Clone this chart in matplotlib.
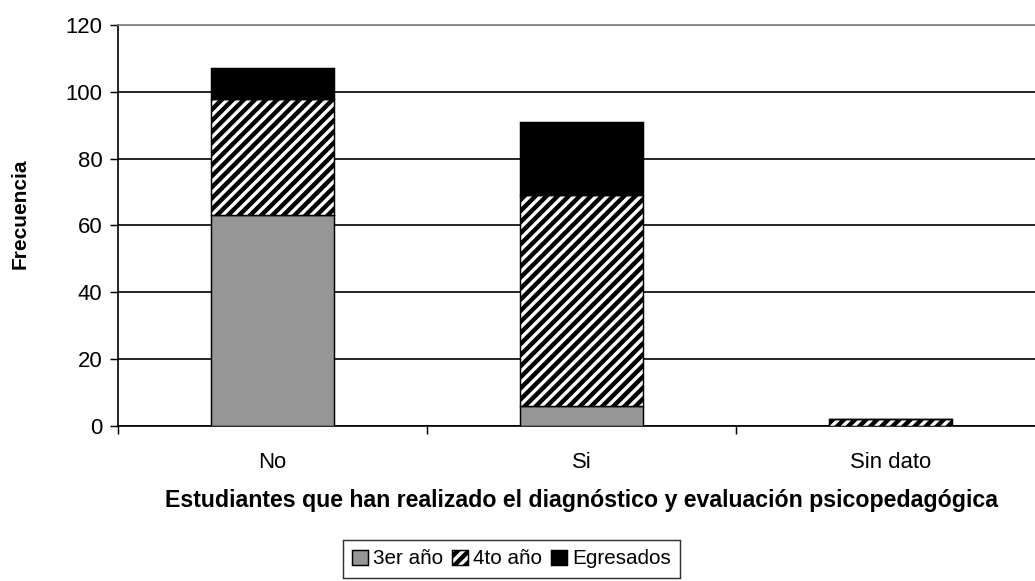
import matplotlib.pyplot as plt
import numpy as np

# --- Data ---
categorias = ["No", "Si", "Sin dato"]
tercer_anio = [63, 6, 0]
cuarto_anio = [35, 63, 2]
egresados = [9, 22, 0]
series_labels = ["3er año", "4to año", "Egresados"]
y_ticks = [0, 20, 40, 60, 80, 100, 120]

DPI = 133
plt.rcParams['font.family'] = ['Liberation Sans', 'DejaVu Sans']
plt.rcParams['hatch.linewidth'] = 2.4
plt.rcParams['hatch.color'] = '#202020'

fig = plt.figure(figsize=(1035 / DPI, 581 / DPI), dpi=DPI)
ax = fig.add_axes([118 / 1035, 1 - 426 / 581, 927 / 1035, 401 / 581])

x = np.arange(len(categorias))
ancho = 0.4
b1 = ax.bar(x, tercer_anio, ancho, color='#969696', edgecolor='black',
            linewidth=0.8, zorder=3, label=series_labels[0])
b2 = ax.bar(x, cuarto_anio, ancho, bottom=tercer_anio, color='white',
            edgecolor='black', hatch='////', linewidth=0.8, zorder=3,
            label=series_labels[1])
base = np.array(tercer_anio) + np.array(cuarto_anio)
b3 = ax.bar(x, egresados, ancho, bottom=base, color='black',
            edgecolor='black', linewidth=0.8, zorder=3,
            label=series_labels[2])

ax.set_xlim(-0.5, 2.5)
ax.set_ylim(0, 120)
ax.set_yticks(y_ticks)
ax.set_xticks(x)
ax.set_xticklabels(categorias, fontsize=12)
ax.set_xticks(np.arange(-0.5, 3.0, 1.0), minor=True)
ax.tick_params(axis='x', which='major', length=0, pad=14)
ax.tick_params(axis='x', which='minor', length=4.5, width=0.8, direction='out')
ax.tick_params(axis='y', length=4.5, width=0.8, direction='out', pad=4,
               labelsize=12)

ax.grid(axis='y', color='black', linewidth=0.9, zorder=0)
ax.set_axisbelow(True)
ax.get_ygridlines()[-1].set_color('#808080')

for side in ['left', 'bottom']:
    ax.spines[side].set_color('black')
    ax.spines[side].set_linewidth(0.9)
ax.spines['top'].set_color('#808080')
ax.spines['top'].set_linewidth(0.9)
ax.spines['right'].set_visible(False)

ax.set_ylabel("Frecuencia", fontsize=11.3, fontweight='bold', labelpad=18)
ax.yaxis.set_label_coords(-0.095, 0.53)
ax.set_xlabel("Estudiantes que han realizado el diagnóstico y evaluación psicopedagógica",
              fontsize=12.5, fontweight='bold', labelpad=9)

leg = fig.legend(handles=[b1, b2, b3], loc='center',
                 bbox_to_anchor=(511.5 / 1035, 1 - 559 / 581), ncol=3,
                 frameon=True, fancybox=False, edgecolor='black',
                 fontsize=11.2, handlelength=0.75, handleheight=0.75,
                 handletextpad=0.25, columnspacing=0.45, borderpad=0.45,
                 borderaxespad=0)
leg.get_frame().set_linewidth(0.8)

fig.savefig("out.png", dpi=DPI)
